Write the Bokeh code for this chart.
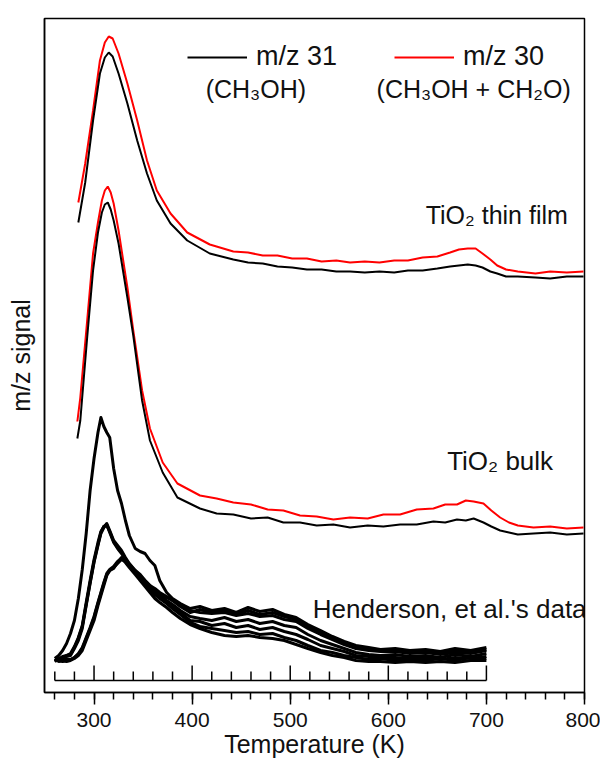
from bokeh.plotting import figure
from bokeh.models import (Range1d, SingleIntervalTicker, FixedTicker, Label,
                          Legend, LegendItem)
from bokeh.embed import file_html
from bokeh.resources import INLINE

# ---------------- data (temperature in K, signal in arbitrary units) ----------------
film_T = [284, 291, 299, 306, 311, 315, 319, 325, 334, 344, 354, 364, 378, 395, 418,
          442, 457, 472, 487, 502, 517, 532, 547, 561, 576, 591, 606, 620, 635,
          650, 663, 672, 681, 689, 696, 704, 711, 720, 732, 750, 765, 782, 799]
film_mz30 = [490, 529, 582, 632, 650, 656, 654, 639, 609, 572, 532, 502, 479, 460, 448,
             441, 440, 437, 437, 434, 434, 431, 432, 430, 431, 430, 432, 432, 435,
             436, 440, 443, 444, 444, 439, 433, 427, 423, 421, 419, 421, 420, 421]
film_mz31 = [470, 510, 572, 619, 635, 640, 636, 619, 589, 552, 519, 492, 469, 452, 439,
             433, 430, 429, 426, 425, 423, 423, 421, 421, 420, 421, 420, 422, 422,
             424, 426, 427, 428, 427, 425, 421, 419, 416, 416, 415, 414, 416, 416]

bulk_T = [283, 286, 293, 299, 304, 308, 311, 314, 317, 320, 325, 334, 340, 349, 357, 370, 385,
          408, 425, 442, 460, 477, 493, 510, 527, 544, 561, 579, 595, 612, 629,
          646, 658, 670, 679, 687, 697, 705, 714, 723, 732, 748, 765, 782, 799]
bulk_mz30 = [271, 295, 372, 439, 470, 492, 502, 506, 500, 489, 462, 405, 362, 302, 264, 230, 209,
             197, 194, 190, 188, 183, 182, 177, 176, 173, 175, 174, 178, 178, 183,
             184, 188, 188, 192, 191, 189, 182, 175, 170, 167, 165, 166, 164, 165]
bulk_mz31 = [254, 272, 355, 422, 460, 480, 488, 490, 483, 472, 449, 395, 357, 292, 252, 220, 195,
             184, 179, 178, 174, 175, 170, 170, 167, 168, 165, 167, 166, 168, 168,
             171, 170, 173, 172, 174, 170, 166, 162, 160, 158, 159, 160, 158, 159]

hend_T = [260, 264, 268, 272, 276, 280, 284, 288, 292, 296,
          300, 304, 307, 310, 313, 316, 320, 324, 328, 332,
          336, 342, 347, 352, 357, 362, 367, 374, 380, 388,
          398, 408, 420, 433, 445, 457, 469, 482, 494, 506,
          518, 531, 543, 555, 567, 580, 592, 607, 622, 638,
          653, 668, 684, 700]
hend_run1 = [34, 37, 42, 49, 59, 72, 94, 123, 159, 202,
             234, 260, 275, 266, 260, 255, 224, 202, 189, 172,
             157, 144, 141, 139, 132, 127, 112, 100, 94, 89,
             84, 86, 82, 84, 80, 85, 81, 83, 78, 75,
             68, 62, 56, 51, 47, 45, 43, 44, 42, 43,
             41, 44, 42, 45]
hend_run2 = [32, 34, 35, 36, 37, 44, 52, 64, 87, 109,
             130, 147, 159, 165, 169, 162, 152, 147, 142, 135,
             129, 122, 118, 112, 107, 102, 97, 92, 88, 82,
             76, 74, 72, 75, 71, 73, 69, 71, 67, 65,
             58, 52, 48, 44, 40, 38, 37, 38, 36, 37,
             35, 38, 36, 39]
hend_run3 = [33, 31, 32, 31, 32, 34, 37, 42, 52, 62,
             72, 87, 97, 107, 117, 122, 124, 130, 135, 132,
             127, 120, 114, 108, 102, 98, 94, 89, 84, 78,
             70, 66, 64, 62, 60, 61, 58, 59, 55, 52,
             47, 42, 40, 37, 35, 33, 34, 32, 33, 32,
             34, 32, 35, 34]
hend_run4 = [31, 33, 36, 37, 39, 46, 55, 67, 90, 112,
             133, 150, 161, 166, 168, 160, 150, 144, 139, 133,
             126, 120, 115, 110, 105, 103, 99, 95, 92, 88,
             82, 80, 79, 80, 77, 79, 76, 77, 73, 71,
             64, 58, 53, 48, 44, 42, 41, 41, 39, 40,
             38, 40, 39, 42]
hend_run5 = [32, 32, 33, 33, 33, 35, 39, 45, 55, 65,
             76, 90, 100, 110, 119, 123, 126, 131, 134, 130,
             125, 118, 112, 106, 100, 94, 90, 85, 80, 74,
             68, 64, 60, 57, 56, 57, 55, 54, 52, 48,
             44, 40, 37, 35, 32, 31, 31, 30, 31, 30,
             31, 30, 32, 32]
hend_run6 = [32, 32, 31, 32, 33, 35, 38, 44, 54, 64,
             75, 89, 99, 109, 118, 122, 125, 129, 133, 131,
             126, 121, 116, 110, 104, 100, 96, 91, 86, 80,
             72, 71, 67, 69, 65, 67, 63, 65, 61, 58,
             53, 47, 44, 41, 37, 36, 35, 35, 34, 35,
             33, 35, 34, 36]
hend_run7 = [32, 33, 35, 37, 38, 45, 54, 66, 88, 110,
             131, 148, 160, 166, 167, 161, 151, 145, 140, 134,
             128, 122, 117, 112, 107, 104, 100, 96, 92, 86,
             80, 83, 80, 82, 78, 82, 78, 80, 76, 73,
             66, 60, 55, 50, 46, 43, 42, 43, 40, 42,
             40, 42, 41, 43]

hend_axis_ticks = list(range(260, 701, 20))

FONT = "Liberation Sans"
TXT = "#111111"

p = figure(width=600, height=760, x_range=Range1d(249.5, 800), y_range=Range1d(0, 674),
           output_backend="svg", toolbar_location=None,
           min_border_left=44, min_border_right=16, min_border_top=18, min_border_bottom=68)
p.xgrid.visible = False
p.ygrid.visible = False
p.outline_line_color = "black"
p.outline_line_width = 1.5
p.background_fill_color = "white"

# x axis
p.xaxis.ticker = SingleIntervalTicker(interval=100, num_minor_ticks=5)
p.xaxis.axis_line_width = 1.5
p.xaxis.major_tick_line_width = 1.5
p.xaxis.minor_tick_line_width = 1.5
p.xaxis.major_tick_in = 0
p.xaxis.major_tick_out = 12
p.xaxis.minor_tick_in = 0
p.xaxis.minor_tick_out = 7
p.xaxis.major_label_standoff = 8
p.xaxis.major_label_text_font = FONT
p.xaxis.major_label_text_font_size = "21px"
p.xaxis.major_label_text_color = TXT
p.xaxis.axis_label = "Temperature (K)"
p.xaxis.axis_label_text_font = FONT
p.xaxis.axis_label_text_font_size = "25px"
p.xaxis.axis_label_text_font_style = "normal"
p.xaxis.axis_label_text_color = TXT
p.xaxis.axis_label_standoff = 0

# y axis: label only
p.yaxis.ticker = FixedTicker(ticks=[])
p.yaxis.major_label_text_font_size = "0px"
p.yaxis.major_tick_out = 0
p.yaxis.major_tick_in = 0
p.yaxis.major_label_standoff = 0
p.yaxis.axis_line_width = 1.5
p.yaxis.axis_label = "m/z signal"
p.yaxis.axis_label_text_font = FONT
p.yaxis.axis_label_text_font_size = "25px"
p.yaxis.axis_label_text_font_style = "normal"
p.yaxis.axis_label_text_color = TXT
p.yaxis.axis_label_standoff = 10

# curves
r_f30 = p.line(film_T, film_mz30, line_color="#ff0000", line_width=2)
r_f31 = p.line(film_T, film_mz31, line_color="black", line_width=2)
r_b30 = p.line(bulk_T, bulk_mz30, line_color="#ff0000", line_width=2)
r_b31 = p.line(bulk_T, bulk_mz31, line_color="black", line_width=2)
for run in (hend_run1, hend_run2, hend_run3, hend_run4, hend_run5, hend_run6, hend_run7):
    p.line(hend_T, run, line_color="black", line_width=3, line_join="round")

# Henderson's own temperature axis (inside the frame)
axis_level = 12
tick_top = [axis_level + (15 if t % 100 == 0 else 9) for t in hend_axis_ticks]
p.segment(x0=hend_axis_ticks, y0=[axis_level] * len(hend_axis_ticks),
          x1=hend_axis_ticks, y1=tick_top, line_color="black", line_width=1.5)
p.line([hend_axis_ticks[0], hend_axis_ticks[-1]], [axis_level, axis_level],
       line_color="black", line_width=1.5)

# legend
legend = Legend(items=[LegendItem(label="m/z 31", renderers=[r_b31]),
                       LegendItem(label="m/z 30", renderers=[r_b30])],
                location=(143, 620), orientation="horizontal",
                glyph_width=60, glyph_height=30, label_height=30, label_standoff=9,
                spacing=57, padding=0, margin=0, border_line_color=None,
                background_fill_alpha=0, label_text_font=FONT,
                label_text_font_size="27px", label_text_color=TXT)
p.add_layout(legend)

def add_text(x, y, text, align, size="25px"):
    p.add_layout(Label(x=x, y=y, text=text, text_align=align, text_baseline="alphabetic",
                       text_font=FONT, text_font_size=size, text_color=TXT))

add_text(465, 604, "(CH\u2083OH)", "center")
add_text(687, 604, "(CH\u2083OH + CH\u2082O)", "center")
add_text(783, 478, "TiO\u2082 thin film", "right")
add_text(768, 232, "TiO\u2082 bulk", "right", "26px")
add_text(523, 84, "Henderson, et al.'s data", "left", "26px")

open("out.html", "w").write(file_html(p, INLINE))
